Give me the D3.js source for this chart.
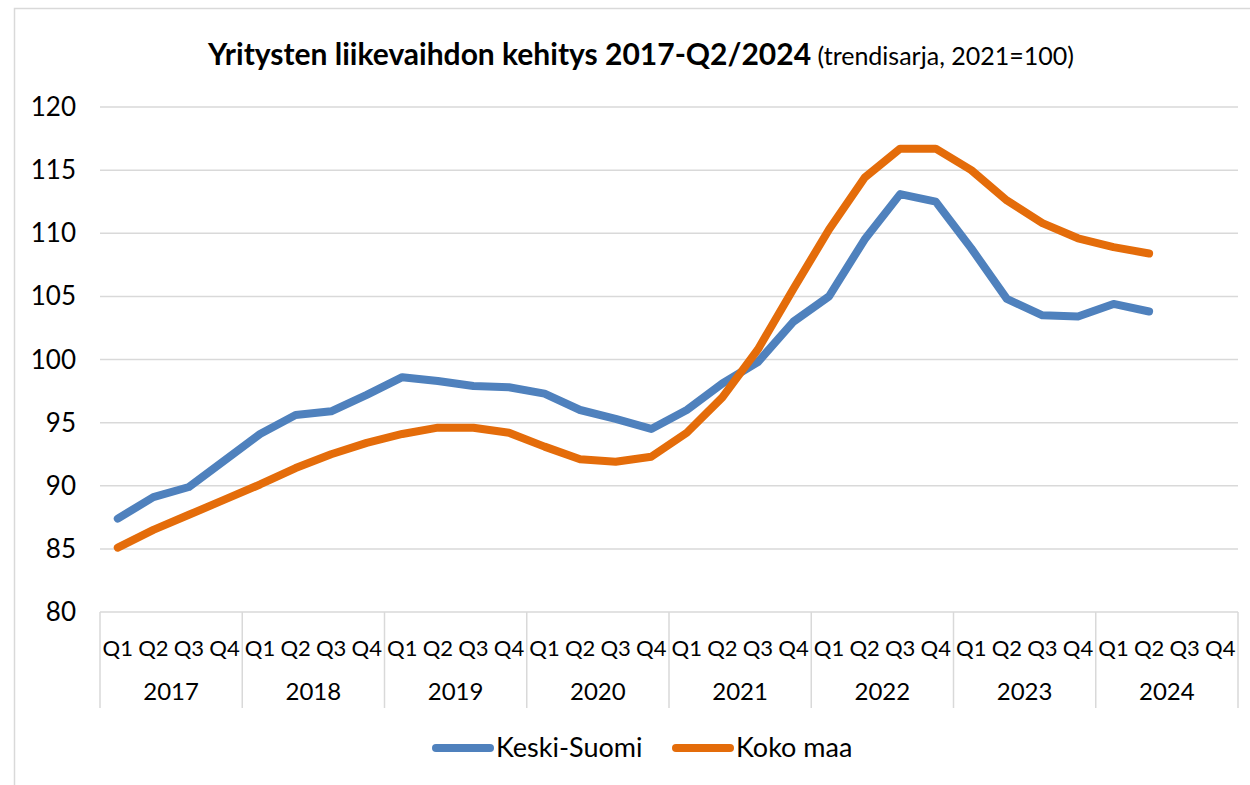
<!DOCTYPE html>
<html lang="fi">
<head>
<meta charset="utf-8">
<title>Yritysten liikevaihdon kehitys</title>
<script src="https://d3js.org/d3.v7.min.js"></script>
<style>
  body { margin: 0; background: #fff; }
  svg text { font-family: Lato, Carlito, "Open Sans", sans-serif; fill: #000; }
</style>
</head>
<body>
<script>
  // data
  const years = ['2017', '2018', '2019', '2020', '2021', '2022', '2023', '2024']
  const quarters = ['Q1', 'Q2', 'Q3', 'Q4']
  const keskiSuomi = [87.4, 89.1, 89.9, 92.0, 94.1, 95.6, 95.9, 97.2,
                      98.6, 98.3, 97.9, 97.8, 97.3, 96.0, 95.3, 94.5,
                      96.0, 98.1, 99.8, 103.0, 105.0, 109.5, 113.1, 112.5,
                      108.8, 104.8, 103.5, 103.4, 104.4, 103.8]
  const kokoMaa = [85.1, 86.5, 87.7, 88.9, 90.1, 91.4, 92.5, 93.4,
                   94.1, 94.6, 94.6, 94.2, 93.1, 92.1, 91.9, 92.3,
                   94.2, 97.0, 100.8, 105.6, 110.3, 114.4, 116.7, 116.7,
                   115.0, 112.6, 110.8, 109.6, 108.9, 108.4]
  const yTicks = [80, 85, 90, 95, 100, 105, 110, 115, 120]
  const seriesNames = ['Keski-Suomi', 'Koko maa']
  const colors = ['#4F81BD', '#E46C0A']

  const W = 1250, H = 785
  const plot = { left: 100, right: 1238, top: 107, bottom: 612 }

  const svg = d3.select('body').append('svg')
    .attr('width', W)
    .attr('height', H)

  // chart area frame
  svg.append('rect')
    .attr('x', 14.5).attr('y', 8.5)
    .attr('width', W + 10).attr('height', H + 10)
    .attr('fill', 'none')
    .attr('stroke', '#d9d9d9')
    .attr('stroke-width', 1.5)

  // title
  const title = svg.append('text')
    .attr('x', 641).attr('y', 65)
    .attr('text-anchor', 'middle')
  title.append('tspan')
    .attr('font-weight', 'bold')
    .attr('font-size', 30)
    .text('Yritysten liikevaihdon kehitys 2017-Q2/2024')
  title.append('tspan')
    .attr('font-size', 25)
    .text(' (trendisarja, 2021=100)')

  const slots = []
  years.forEach(y => quarters.forEach(q => slots.push(y + ' ' + q)))

  const x = d3.scaleBand()
    .domain(slots)
    .range([plot.left, plot.right])

  const xYear = d3.scaleBand()
    .domain(years)
    .range([plot.left, plot.right])

  const y = d3.scaleLinear()
    .domain([80, 120])
    .range([plot.bottom, plot.top])

  // gridlines
  svg.append('g')
    .selectAll('line')
    .data(yTicks)
    .enter()
    .append('line')
    .attr('x1', plot.left).attr('x2', plot.right)
    .attr('y1', d => y(d)).attr('y2', d => y(d))
    .attr('stroke', '#d9d9d9')
    .attr('stroke-width', 1.5)

  // y axis labels
  svg.append('g')
    .selectAll('text')
    .data(yTicks)
    .enter()
    .append('text')
    .attr('x', 76)
    .attr('y', d => y(d))
    .attr('dy', '0.35em')
    .attr('text-anchor', 'end')
    .attr('font-size', 26)
    .text(d => d)

  // category separators
  const sepX = years.map(d => xYear(d)).concat([plot.right])
  svg.append('g')
    .selectAll('line')
    .data(sepX)
    .enter()
    .append('line')
    .attr('x1', d => d).attr('x2', d => d)
    .attr('y1', plot.bottom).attr('y2', 708)
    .attr('stroke', '#d9d9d9')
    .attr('stroke-width', 1.5)

  // quarter labels
  svg.append('g')
    .selectAll('text')
    .data(slots)
    .enter()
    .append('text')
    .attr('x', d => x(d) + x.bandwidth() / 2)
    .attr('y', 648)
    .attr('dy', '0.35em')
    .attr('text-anchor', 'middle')
    .attr('font-size', 22)
    .text(d => d.split(' ')[1])

  // year labels
  svg.append('g')
    .selectAll('text')
    .data(years)
    .enter()
    .append('text')
    .attr('x', d => xYear(d) + xYear.bandwidth() / 2)
    .attr('y', 692)
    .attr('dy', '0.35em')
    .attr('text-anchor', 'middle')
    .attr('font-size', 24)
    .text(d => d)

  // lines
  const line = d3.line()
    .x((d, i) => x(slots[i]) + x.bandwidth() / 2)
    .y(d => y(d))

  ;[keskiSuomi, kokoMaa].forEach((series, k) => {
    svg.append('path')
      .datum(series)
      .attr('d', line)
      .attr('fill', 'none')
      .attr('stroke', colors[k])
      .attr('stroke-width', 8)
      .attr('stroke-linejoin', 'round')
      .attr('stroke-linecap', 'round')
  })

  // legend
  const legendX = [436, 676]
  const legend = svg.append('g')
    .selectAll('g')
    .data(seriesNames)
    .enter()
    .append('g')
    .attr('transform', (d, i) => `translate(${legendX[i]},748)`)

  legend.append('line')
    .attr('x1', 0).attr('x2', 54)
    .attr('stroke', (d, i) => colors[i])
    .attr('stroke-width', 8)
    .attr('stroke-linecap', 'round')

  legend.append('text')
    .attr('x', 60)
    .attr('dy', '0.35em')
    .attr('font-size', 27)
    .text(d => d)
</script>
</body>
</html>
